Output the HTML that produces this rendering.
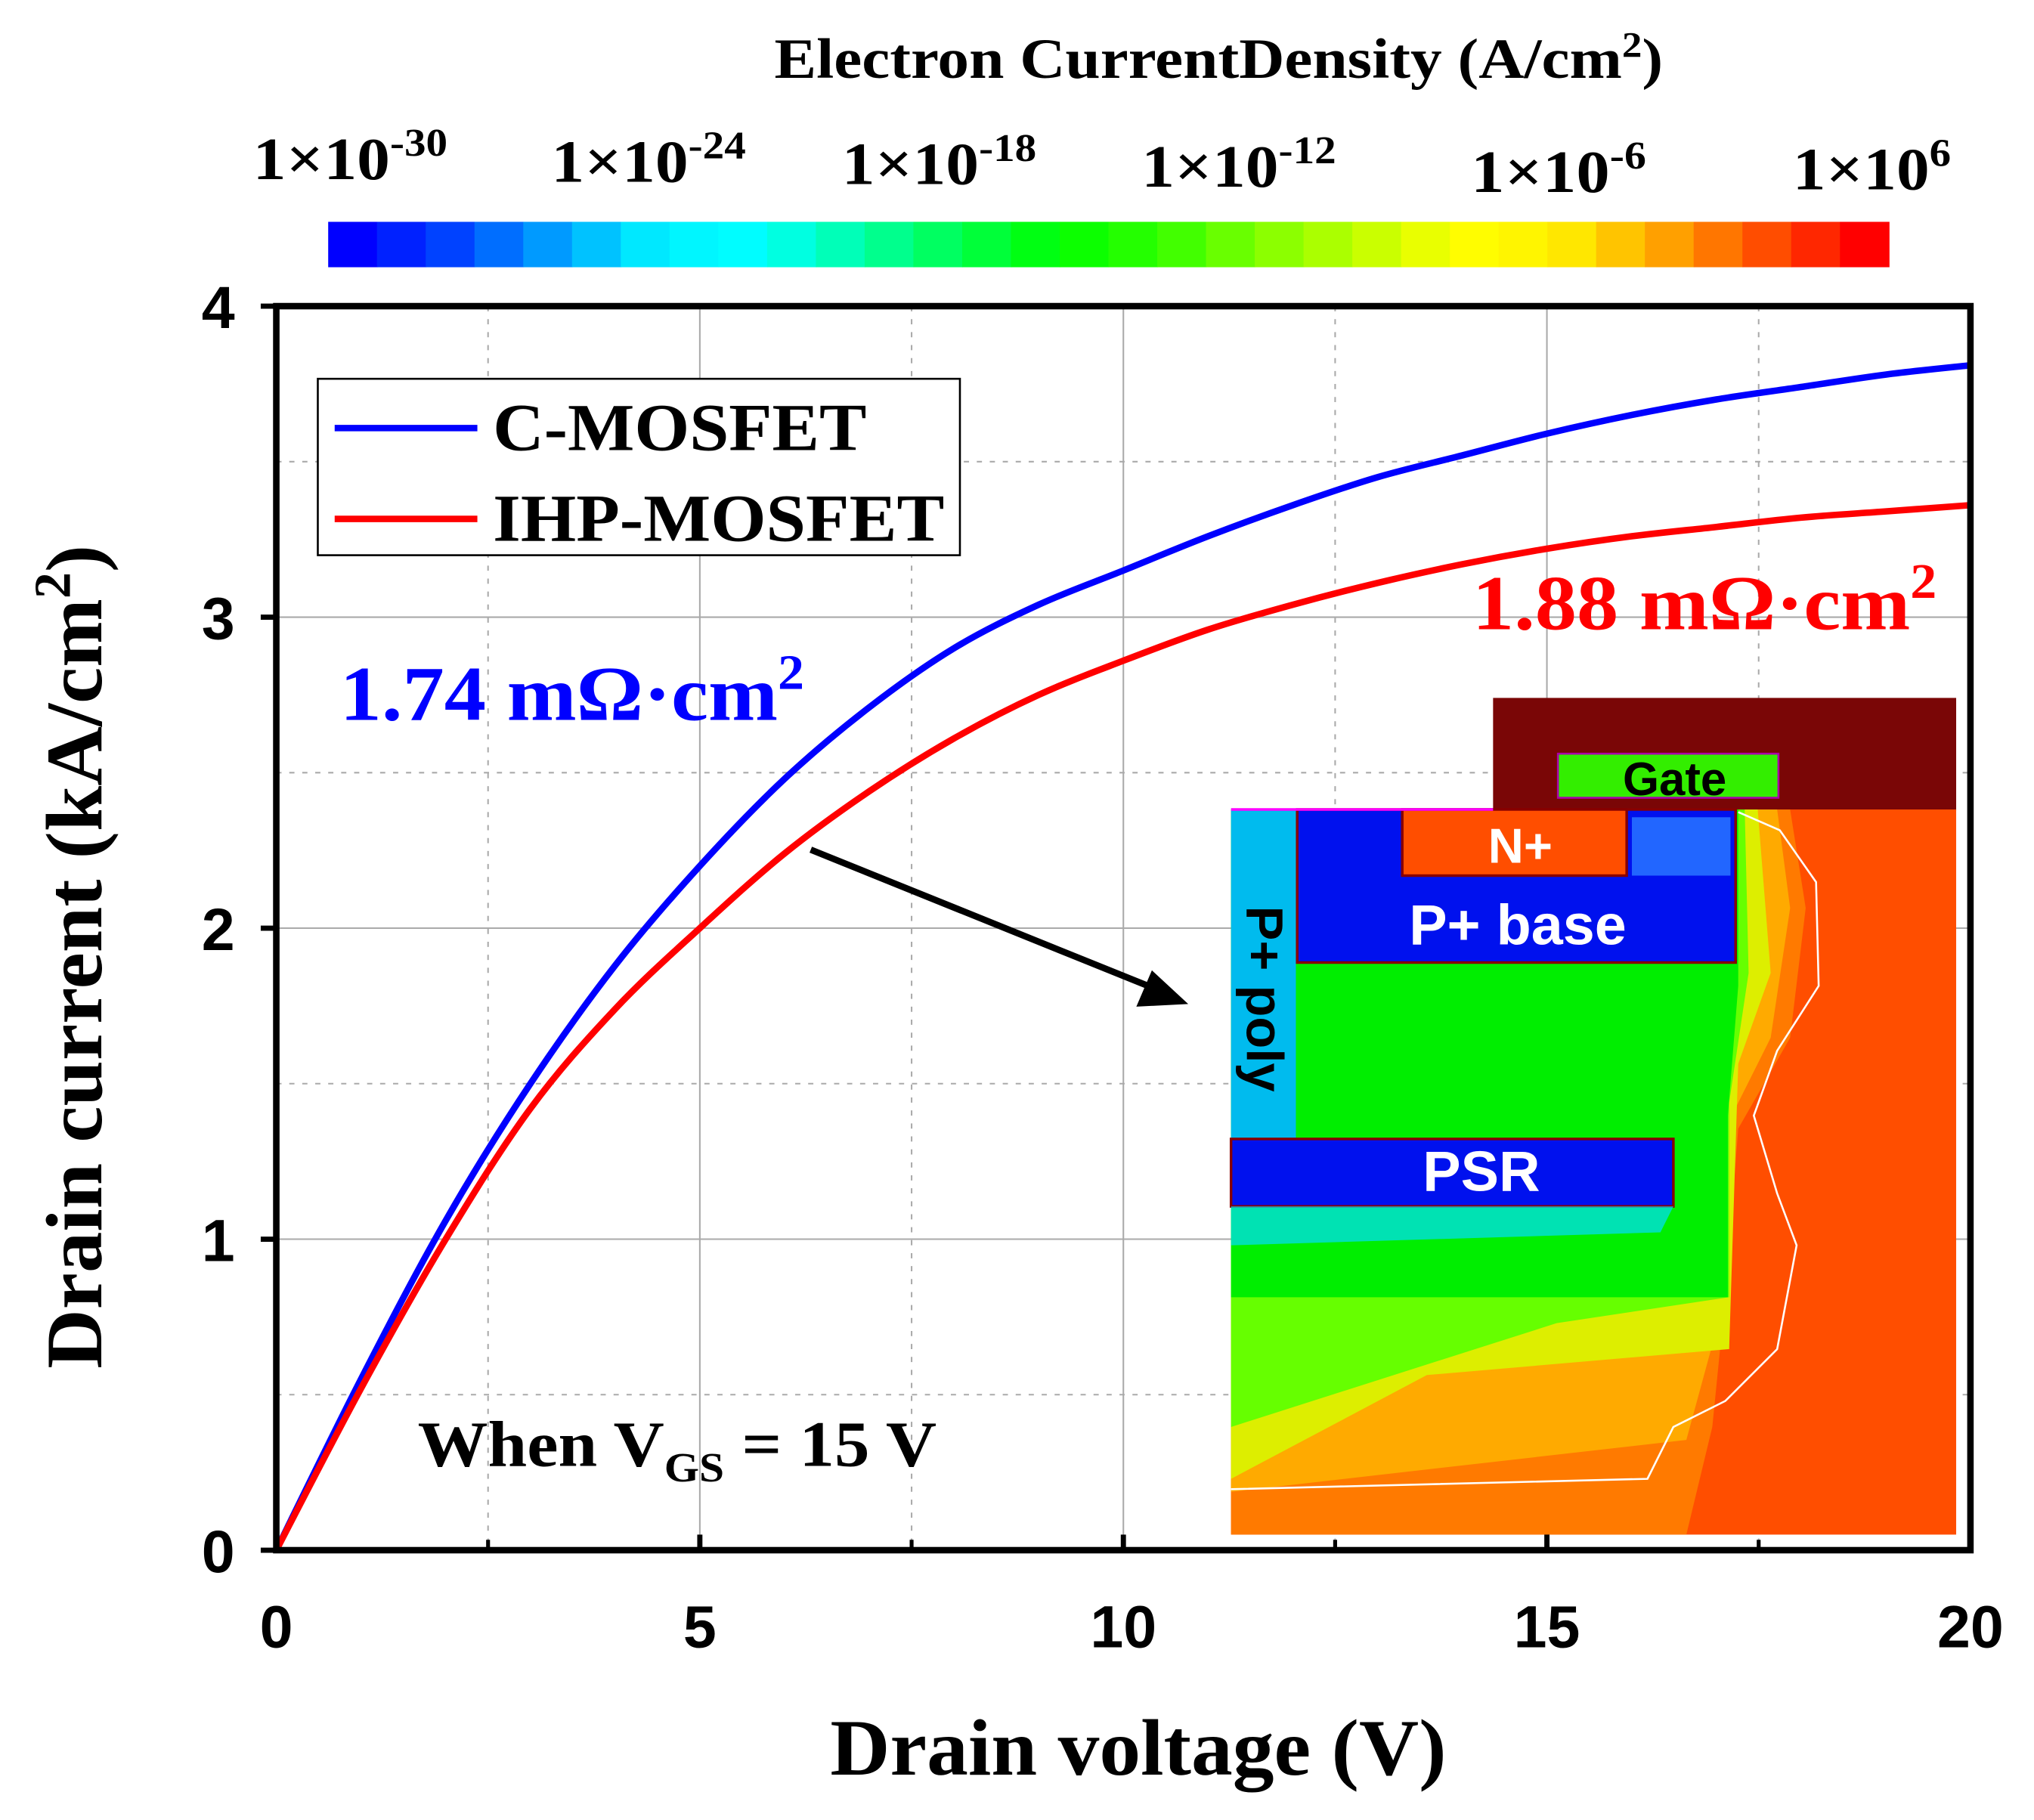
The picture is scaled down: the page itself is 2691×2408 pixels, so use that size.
<!DOCTYPE html>
<html><head><meta charset="utf-8"><style>
html,body{margin:0;padding:0;background:#fff}
svg{display:block}
.serif{font-family:"Liberation Serif",serif;font-weight:bold}
.sans{font-family:"Liberation Sans",sans-serif;font-weight:bold}
</style></head><body>
<svg id="chart" width="2691" height="2408" viewBox="0 0 1568 1403" preserveAspectRatio="none" xmlns="http://www.w3.org/2000/svg">
<text class="serif" x="597" y="60" font-size="44" textLength="685" lengthAdjust="spacingAndGlyphs">Electron CurrentDensity (A/cm<tspan font-size="28" dy="-16">2</tspan><tspan dy="16">)</tspan></text>
<g id="cbar"></g>
<g id="cbar-labels"></g>
<g id="grid"></g>
<g>
  <rect x="1151" y="538" width="357" height="87" fill="#7a0606"/>
  <rect x="1201" y="581" width="170" height="34" fill="#33ee00" stroke="#aa00aa" stroke-width="1.5"/>
  <text class="sans" x="1291" y="613" font-size="36" text-anchor="middle" fill="#000">Gate</text>
  <rect x="949" y="624" width="559" height="559" fill="#ff4e00"/>
  <polygon points="949,624 1380,624 1392,700 1380,800 1340,870 1330,1000 1320,1100 1300,1183 949,1183" fill="#ff7a00"/>
  <polygon points="949,624 1370,624 1380,700 1365,800 1330,870 1330,1000 1300,1110 949,1150" fill="#ffaa00"/>
  <polygon points="949,624 1355,624 1365,750 1340,820 1333,1040 1100,1060 949,1140" fill="#ddee00"/>
  <polygon points="949,624 1345,624 1348,750 1333,850 1333,1000 1200,1020 949,1100" fill="#66ff00"/>
  <polygon points="949,624 1340,624 1340,760 1332,860 1332,1000 949,1000" fill="#00ee00"/>
  <rect x="949" y="624" width="50" height="272" fill="#00bbee"/>
  <rect x="1000" y="624" width="338" height="118" fill="#0011ee" stroke="#880000" stroke-width="2"/>
  <rect x="1081" y="624" width="173" height="51" fill="#ff4e00" stroke="#880000" stroke-width="2"/>
  <rect x="1258" y="630" width="76" height="45" fill="#2266ff"/>
  <rect x="949" y="878" width="341" height="52" fill="#0011ee" stroke="#880000" stroke-width="2"/>
  <polygon points="949,930 1290,930 1280,950 949,960" fill="#00ddff" opacity="0.7"/>
  <polyline points="1340,626 1372,640 1400,680 1402,760 1370,810 1352,860 1370,920 1385,960 1370,1040 1330,1080 1290,1100 1270,1140 949,1148" fill="none" stroke="#fff" stroke-width="1.5"/>
  <line x1="949" y1="624" x2="1151" y2="624" stroke="#ff00ff" stroke-width="2"/>
  <text class="sans" x="1172" y="665" font-size="38" text-anchor="middle" fill="#fff">N+</text>
  <text class="sans" x="1170" y="728" font-size="44" text-anchor="middle" fill="#fff">P+ base</text>
  <text class="sans" x="1142" y="918" font-size="44" text-anchor="middle" fill="#fff">PSR</text>
  <text class="sans" x="961" y="770" font-size="40" text-anchor="middle" fill="#000" transform="rotate(90 961 770)">P+ poly</text>
</g>
<g id="series"></g>
<g id="axes"></g>
<g>
  <rect x="245" y="292" width="495" height="136" fill="#fff" stroke="#000" stroke-width="1.5"/>
  <g>
    <line x1="258" y1="330" x2="368" y2="330" stroke="#0000ff" stroke-width="5"/>
    <text class="serif" x="380" y="347" font-size="52" textLength="288" lengthAdjust="spacingAndGlyphs">C-MOSFET</text>
  </g>
  <g>
    <line x1="258" y1="400" x2="368" y2="400" stroke="#ff0000" stroke-width="5"/>
    <text class="serif" x="380" y="417" font-size="52" textLength="348" lengthAdjust="spacingAndGlyphs">IHP-MOSFET</text>
  </g>
</g>
<text class="serif" x="262" y="555" font-size="60" fill="#0000ff" textLength="358" lengthAdjust="spacingAndGlyphs">1.74 mΩ·cm<tspan font-size="38" dy="-24">2</tspan></text>
<text class="serif" x="1135" y="485" font-size="60" fill="#ff0000" textLength="358" lengthAdjust="spacingAndGlyphs">1.88 mΩ·cm<tspan font-size="38" dy="-24">2</tspan></text>
<text class="serif" x="322" y="1130" font-size="50" textLength="400" lengthAdjust="spacingAndGlyphs">When V<tspan font-size="32" dy="12">GS</tspan><tspan dy="-12"> = 15 V</tspan></text>
<g>
  <line x1="625" y1="655" x2="885" y2="760" stroke="#000" stroke-width="5"/>
  <polygon points="916,774 876,776 888,748" fill="#000"/>
</g>
<text class="serif" x="640" y="1368" font-size="62" textLength="475" lengthAdjust="spacingAndGlyphs">Drain voltage (V)</text>
<text class="serif" x="0" y="0" font-size="62" textLength="635" lengthAdjust="spacingAndGlyphs" transform="translate(78 1055) rotate(-90)">Drain current (kA/cm<tspan font-size="40" dy="-24">2</tspan><tspan dy="24">)</tspan></text>
</svg>
<script>
const xTicks = [0, 5, 10, 15, 20];
const yTicks = [0, 1, 2, 3, 4];
const voltage = [0, 1, 2, 3, 4, 5, 6, 7, 8, 9, 10, 11, 12, 13, 14, 15, 16, 17, 18, 19, 20];
const cMosfet = [0, 0.55, 1.06, 1.5, 1.88, 2.2, 2.48, 2.71, 2.9, 3.04, 3.15, 3.26, 3.36, 3.45, 3.52, 3.59, 3.65, 3.7, 3.74, 3.78, 3.81];
const ihpMosfet = [0, 0.52, 1.0, 1.42, 1.74, 2.0, 2.24, 2.44, 2.61, 2.75, 2.86, 2.96, 3.04, 3.11, 3.17, 3.22, 3.26, 3.29, 3.32, 3.34, 3.36];
const cbarLabels = ["-30", "-24", "-18", "-12", "-6", "6"];
const cbarStops = ["#0000ff","#0044ff","#00a0ff","#00f0ff","#00ffff","#00ffaa","#00ff50","#00ff00","#30ff00","#80ff00","#c0ff00","#ffff00","#ffee00","#ffa500","#ff5000","#ff0000"];

const NS = "http://www.w3.org/2000/svg";
const L = 213, R = 1519, T = 236, B = 1195;
const xs = v => L + (v - 0) / 20 * (R - L);
const ys = v => B - v / 4 * (B - T);
function mk(tag, attrs, parent) {
  const e = document.createElementNS(NS, tag);
  for (const k in attrs) e.setAttribute(k, attrs[k]);
  parent.appendChild(e);
  return e;
}
const cb = document.getElementById('cbar');
const nSeg = 32, cx0 = 253, cx1 = 1456;
function hex(c){return [1,3,5].map(i=>parseInt(c.substr(i,2),16));}
for (let i = 0; i < nSeg; i++) {
  const t = i / (nSeg - 1) * (cbarStops.length - 1);
  const a = Math.floor(t), b = Math.min(a + 1, cbarStops.length - 1), f = t - a;
  const ca = hex(cbarStops[a]), cbb = hex(cbarStops[b]);
  const c = ca.map((v, j) => Math.round(v + (cbb[j] - v) * f));
  const w = (cx1 - cx0) / nSeg;
  const r = mk('rect', {x: cx0 + i * w, y: 171, width: w + 0.6, height: 35, fill: `rgb(${c})`}, cb);
  
  
}
const cl = document.getElementById('cbar-labels');
const lblX = [195, 425, 649, 880, 1134, 1382];
const lblW = [150, 150, 150, 150, 135, 122];
const lblY = [138, 140, 142, 144, 148, 146];
cbarLabels.forEach((s, i) => {
  const t = mk('text', {x: lblX[i], y: lblY[i], 'font-size': 46, class: 'serif', textLength: lblW[i], lengthAdjust: 'spacingAndGlyphs'}, cl);
  
  
  t.innerHTML = `1×10<tspan font-size="30" dy="-18">${s}</tspan>`;
});
const g = document.getElementById('grid');
for (let v = 2.5; v < 20; v += 2.5) {
  const major = v % 5 === 0;
  const l = mk('line', {x1: xs(v), x2: xs(v), y1: T, y2: B, stroke: '#aaa', 'stroke-width': 1.2, 'stroke-dasharray': major ? '' : '4,6'}, g);
  
  
}
for (let v = 0.5; v < 4; v += 0.5) {
  const major = v % 1 === 0;
  const l = mk('line', {x1: L, x2: R, y1: ys(v), y2: ys(v), stroke: '#aaa', 'stroke-width': 1.2, 'stroke-dasharray': major ? '' : '4,6'}, g);
  
  
}
const sg = document.getElementById('series');
function path(vals) {
  const pts = voltage.map((v, i) => [xs(v), ys(vals[i])]);
  let d = `M${pts[0][0]},${pts[0][1]}`;
  for (let i = 0; i < pts.length - 1; i++) {
    const p0 = pts[Math.max(i - 1, 0)], p1 = pts[i], p2 = pts[i + 1], p3 = pts[Math.min(i + 2, pts.length - 1)];
    const c1 = [p1[0] + (p2[0] - p0[0]) / 6, p1[1] + (p2[1] - p0[1]) / 6];
    const c2 = [p2[0] - (p3[0] - p1[0]) / 6, p2[1] - (p3[1] - p1[1]) / 6];
    d += ` C${c1} ${c2} ${p2}`;
  }
  return d;
}
const p1 = mk('path', {d: path(cMosfet), fill: 'none', stroke: '#0000ff', 'stroke-width': 5}, sg);


const p2 = mk('path', {d: path(ihpMosfet), fill: 'none', stroke: '#ff0000', 'stroke-width': 5}, sg);


const ax = document.getElementById('axes');
const frame = mk('rect', {x: L, y: T, width: R - L, height: B - T, fill: 'none', stroke: '#000', 'stroke-width': 5}, ax);


xTicks.forEach(v => {
  const tk = mk('line', {x1: xs(v), x2: xs(v), y1: B, y2: B - 12, stroke: '#000', 'stroke-width': 4}, ax);
  
  
  const t = mk('text', {x: xs(v), y: B + 75, 'font-size': 46, 'text-anchor': 'middle', class: 'sans'}, ax);
  
  
  t.textContent = v;
});
for (let v = 2.5; v < 20; v += 5) {
  const tk = mk('line', {x1: xs(v), x2: xs(v), y1: B, y2: B - 8, stroke: '#000', 'stroke-width': 3}, ax);
  
  
}
yTicks.forEach(v => {
  const tk = mk('line', {x1: L, x2: L - 12, y1: ys(v), y2: ys(v), stroke: '#000', 'stroke-width': 4}, ax);
  
  
  const t = mk('text', {x: L - 32, y: ys(v) + 17, 'font-size': 46, 'text-anchor': 'end', class: 'sans'}, ax);
  
  
  t.textContent = v;
});
</script>
</body></html>
